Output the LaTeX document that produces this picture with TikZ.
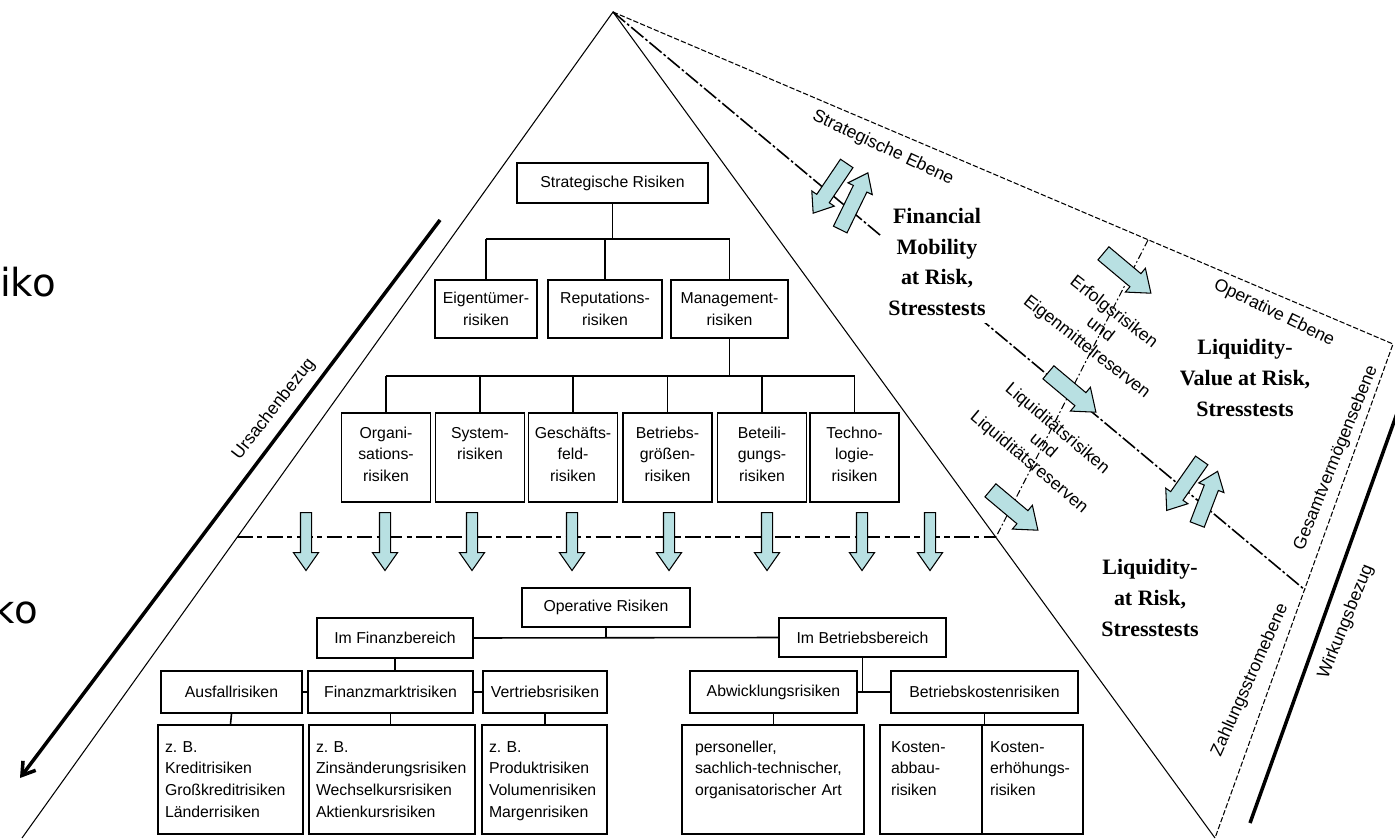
\documentclass[tikz,border=0pt]{standalone}
\usepackage{fontspec}
\setmainfont{Liberation Sans}
\newfontfamily\labelserif{Liberation Serif}
\newfontfamily\marginsans{DejaVu Sans}
\usetikzlibrary{shapes.arrows, arrows.meta, calc}
\frenchspacing

\definecolor{arrowcyan}{RGB}{184, 224, 226}

\begin{document}
\begin{tikzpicture}[x=0.2mm, y=-0.2mm,
  riskbox/.style={draw, line width=0.9pt, inner sep=0pt, align=center, font=\fontsize{9}{12.5}\selectfont},
  topbox/.style={riskbox, text height=5mm, text depth=12.8mm, text width=17.8mm},
  listbox/.style={draw, line width=0.9pt, inner ysep=0pt, align=left, text height=5.4mm, text depth=16.4mm, font=\fontsize{9}{12.5}\selectfont},
  conn/.style={line width=0.9pt},
  facetext/.style={font=\fontsize{10}{12.5}\selectfont, align=center, inner sep=1pt},
  bigtext/.style={font=\labelserif\bfseries\fontsize{12.5}{17.5}\selectfont, align=center},
  blockarrow/.style={single arrow, draw, fill=arrowcyan, line width=0.6pt, inner xsep=0pt, minimum width=0pt, anchor=tail},
  downarrow/.style={blockarrow, rotate=-90, inner ysep=1mm, single arrow head extend=1.4mm, single arrow tip angle=70, minimum height=11.6mm},
  diagarrow/.style={blockarrow, rotate=-40, inner ysep=1.6mm, single arrow head extend=1.4mm, single arrow tip angle=75, minimum height=12.4mm},
  pairarrow/.style={blockarrow, inner ysep=1.4mm, single arrow head extend=1.2mm, single arrow tip angle=75}
]
  \useasboundingbox (0,0) rectangle (1395,840);

  % Pyramid corners
  \coordinate (apex) at (613,12);
  \coordinate (bl) at (22,838);
  \coordinate (br) at (1215,838);
  \coordinate (tr) at (1393,344);
  \coordinate (dl) at (237,537);
  \coordinate (dr) at (996,537);
  \coordinate (eb) at (1148,240);
  \coordinate (se) at (1305,590);

  % Pyramid edges
  \draw[line width=0.6pt] (bl) -- (apex) -- (br);
  \draw[line width=0.6pt, dash pattern=on 3pt off 1.2pt] (apex) -- (tr) -- (br);
  \draw[line width=0.9pt, dash pattern=on 9pt off 1.5pt on 1.5pt off 1.5pt] (apex) -- (se);
  \draw[line width=0.6pt, dash pattern=on 4pt off 1.5pt on 1pt off 1.5pt] (eb) -- (dr);
  \draw[line width=0.8pt, dash pattern=on 9pt off 2.5pt on 3pt off 2.5pt] (dl) -- (dr);

  % Cause and effect
  \coordinate (ub1) at (440,220);
  \coordinate (ub2) at (20,778);
  \draw[line width=2pt, -{Straight Barb[length=7pt, width=9pt]}] (ub1) -- (ub2);
  \coordinate (wb1) at (1250,823);
  \coordinate (wb2) at (1400,405);
  \draw[line width=2pt] (wb1) -- (wb2);

  % Strategic risks
  \node[riskbox, minimum width=38.2mm, minimum height=8mm] (sr) at (612.5,183) {Strategische Risiken};
  \node[riskbox, minimum width=20.4mm, minimum height=11.6mm] (eg) at (486,309) {Eigentümer-\\risiken};
  \node[riskbox, minimum width=22.8mm, minimum height=11.6mm] (rp) at (605,309) {Reputations-\\risiken};
  \node[riskbox, minimum width=23.4mm, minimum height=11.6mm] (mg) at (729.5,309) {Management-\\risiken};

  \coordinate (bus1) at (607,239);
  \draw[conn] (sr.south) -- (sr.south |- bus1);
  \draw[conn] (eg.north |- bus1) -- (mg.north |- bus1);
  \foreach \n in {eg,rp,mg}
    \draw[conn] (\n.north) -- (\n.north |- bus1);

  \node[topbox] (o1) at (386,457.5) {Organi-\\sations-\\risiken};
  \node[topbox] (o2) at (480,457.5) {System-\\risiken};
  \node[topbox] (o3) at (573,457.5) {Geschäfts-\\feld-\\risiken};
  \node[topbox] (o4) at (667.5,457.5) {Betriebs-\\größen-\\risiken};
  \node[topbox] (o5) at (762,457.5) {Beteili-\\gungs-\\risiken};
  \node[topbox] (o6) at (854.5,457.5) {Techno-\\logie-\\risiken};

  \coordinate (bus2) at (727,376);
  \draw[conn] (mg.south) -- (mg.south |- bus2);
  \draw[conn] (o1.north |- bus2) -- (o6.north |- bus2);
  \foreach \i in {1,...,6}
    \draw[conn] (o\i.north) -- (o\i.north |- bus2);

  % Transition to operative level
  \foreach \x [count=\k] in {306,385,472,572,669,767,862,930}
    \node[downarrow] (d\k) at (\x,512) {};

  % Operative risks
  \node[riskbox, minimum width=33.6mm, minimum height=7.8mm] (or) at (606,607.5) {Operative Risiken};
  \node[riskbox, minimum width=31.2mm, minimum height=8mm] (fb) at (395,638) {Im Finanzbereich};
  \node[riskbox, minimum width=33.4mm, minimum height=7.8mm] (bb) at (862.5,637.5) {Im Betriebsbereich};
  \draw[conn] (fb.east) -- (bb.west);
  \draw[conn] (or.south) -- (or.south |- fb.east);

  \node[riskbox, minimum width=28.2mm, minimum height=8.4mm] (ar) at (231.5,692) {Ausfallrisiken};
  \node[riskbox, minimum width=33mm, minimum height=8.4mm] (fm) at (390.5,692) {Finanzmarktrisiken};
  \node[riskbox, minimum width=24.8mm, minimum height=8.4mm] (vr) at (545,692) {Vertriebsrisiken};
  \node[riskbox, minimum width=33.4mm, minimum height=8.4mm] (ab) at (773.5,692) {Abwicklungsrisiken};
  \node[riskbox, minimum width=37.4mm, minimum height=8.4mm] (bk) at (984.5,692) {Betriebskostenrisiken};
  \draw[conn] (fb.south) -- (fb.south |- fm.north);
  \draw[conn] (ar.east) -- (fm.west);
  \draw[conn] (fm.east) -- (vr.west);
  \draw[conn] (bb.south) -- (bb.south |- ab.east);
  \draw[conn] (ab.east) -- (bk.west);

  \node[listbox, inner xsep=1.4mm, text width=26.2mm] (ard) at (230.5,779.5) {z. B.\\Kreditrisiken\\Großkreditrisiken\\Länderrisiken};
  \node[listbox, inner xsep=1.4mm, text width=30.4mm] (fmd) at (392,779.5) {z. B.\\Zinsänderungsrisiken\\Wechselkursrisiken\\Aktienkursrisiken};
  \node[listbox, inner xsep=1.4mm, text width=22.2mm] (vrd) at (544.5,779.5) {z. B.\\Produktrisiken\\Volumenrisiken\\Margenrisiken};
  \node[listbox, inner xsep=2.6mm, text width=31.2mm] (abd) at (773,779.5) {personeller,\\sachlich-technischer,\\organisatorischer Art};
  \node[listbox, inner xsep=2.2mm, text width=16mm] (kad) at (931,779.5) {Kosten-\\abbau-\\risiken};
  \node[listbox, inner xsep=1.6mm, text width=17mm] (ked) at (1032.5,779.5) {Kosten-\\erhöhungs-\\risiken};
  \draw[conn] (ar.south) -- (ard.north);
  \draw[conn] (fm.south) -- (fm.south |- fmd.north);
  \draw[conn] (vr.south) -- (vr.south |- vrd.north);
  \draw[conn] (ab.south) -- (ab.south |- abd.north);
  \draw[conn] (bk.south) -- (bk.south |- kad.north);

  % Right face: arrows between levels
  \node[pairarrow, rotate=-124, minimum height=12mm] (p1a) at (847,163) {};
  \node[pairarrow, rotate=64, minimum height=12.6mm] (p1b) at (840,230) {};
  \node[pairarrow, rotate=-125, minimum height=12.2mm] (p2a) at (1202,460) {};
  \node[pairarrow, rotate=69, minimum height=11.4mm] (p2b) at (1197,525) {};
  \node[diagarrow] (g1) at (1103,253) {};
  \node[diagarrow] (g2) at (1048,372) {};
  \node[diagarrow] (g3) at (990,490) {};

  % Right face: measures
  \node[bigtext, fill=white, inner sep=4pt] (fmr) at (937,262) {Financial\\Mobility\\at Risk,\\Stresstests};
  \node[bigtext] (lvr) at (1245,378) {Liquidity-\\Value at Risk,\\Stresstests};
  \node[bigtext] (lar) at (1150,598) {Liquidity-\\at Risk,\\Stresstests};

  % Right face: level labels
  \node[facetext, rotate=-25] (seb) at (883,148) {Strategische Ebene};
  \node[facetext, rotate=-26] (oeb) at (1274,313) {Operative Ebene};
  \node[facetext, rotate=-38] (er) at (1100,330) {Erfolgsrisiken\\und\\Eigenmittelreserven};
  \node[facetext, rotate=-40] (lr) at (1043,446) {Liquiditätsrisiken\\und\\Liquiditätsreserven};
  \node[facetext, rotate=68] (gv) at (1336,458) {Gesamtvermögensebene};
  \node[facetext, rotate=66] (zs) at (1250,680) {Zahlungsstromebene};
  \node[facetext, rotate=68] (wb) at (1346,622) {Wirkungsbezug};
  \node[facetext, rotate=52] (ub) at (274,409) {Ursachenbezug};

  % Cut-off margin words
  \node[font=\marginsans\fontsize{22}{22}\selectfont, anchor=base east, inner sep=0pt] (iko) at (56,297) {iko};
  \node[font=\marginsans\fontsize{22}{22}\selectfont, anchor=base east, inner sep=0pt] (ko) at (38,623) {ko};
\end{tikzpicture}
\end{document}
